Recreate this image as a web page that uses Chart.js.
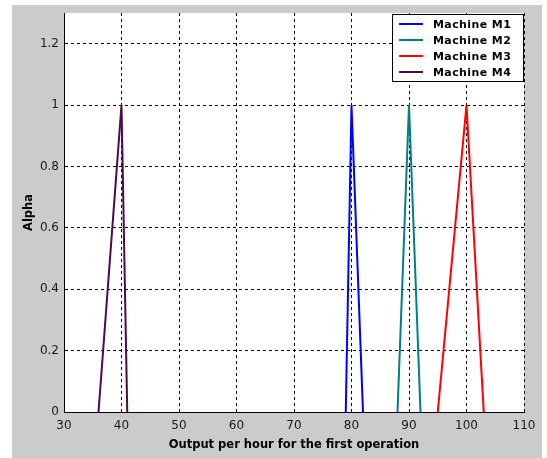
<!DOCTYPE html>
<html>
<head>
<meta charset="utf-8">
<script src="https://cdn.jsdelivr.net/npm/chart.js@4/dist/chart.umd.min.js"></script>
<style>
  html, body { margin: 0; padding: 0; background: #ffffff; }
  #wrap { width: 547px; height: 458px; position: relative; }
</style>
</head>
<body>
<div id="wrap"><canvas id="c" width="547" height="458"></canvas></div>
<script>
// ---- data ----
const seriesNames = ['Machine M1', 'Machine M2', 'Machine M3', 'Machine M4'];
const alphaLevels = [0, 1, 0];
const m1Output = [79, 80, 82];
const m2Output = [88, 90, 92];
const m3Output = [95, 100, 103];
const m4Output = [36, 40, 41];
const xTickValues = [30, 40, 50, 60, 70, 80, 90, 100, 110];
const yTickValues = [0, 0.2, 0.4, 0.6, 0.8, 1, 1.2];
const yTickLabels = ['0', '0.2', '0.4', '0.6', '0.8', '1', '1.2'];
const xTitle = 'Output per hour for the first operation';
const yTitle = 'Alpha';

const seriesColors = ['#0000ff', '#008080', '#ff0000', '#4b0a4b'];
const seriesOutputs = [m1Output, m2Output, m3Output, m4Output];

const datasets = seriesNames.map((name, i) => ({
  label: name,
  data: seriesOutputs[i].map((x, j) => ({ x: x, y: alphaLevels[j] })),
  borderColor: seriesColors[i],
  backgroundColor: seriesColors[i],
  borderWidth: 2,
  pointRadius: 0,
  tension: 0,
  fill: false
}));

const bgPlugin = {
  id: 'bg',
  beforeDraw(chart) {
    const ctx = chart.ctx;
    const a = chart.chartArea;
    ctx.save();
    ctx.fillStyle = '#ffffff';
    ctx.fillRect(0, 0, chart.width, chart.height);
    ctx.fillStyle = '#cbcbcb';
    ctx.fillRect(12, 5, 530, 453);
    ctx.fillStyle = '#ffffff';
    ctx.fillRect(a.left, a.top, a.right - a.left, a.bottom - a.top);
    ctx.restore();
  }
};

const legendPlugin = {
  id: 'boxLegend',
  afterDraw(chart) {
    const ctx = chart.ctx;
    const a = chart.chartArea;
    const bw = 132, bh = 68;
    const bx = a.right - bw, by = a.top + 1;
    ctx.save();
    ctx.fillStyle = '#ffffff';
    ctx.fillRect(bx, by, bw, bh);
    ctx.strokeStyle = '#000000';
    ctx.lineWidth = 1;
    ctx.strokeRect(bx + 0.5, by + 0.5, bw - 1, bh - 1);
    ctx.font = 'bold 11px "DejaVu Sans"';
    ctx.textBaseline = 'middle';
    ctx.textAlign = 'left';
    try { ctx.letterSpacing = '0.4px'; } catch (e) {}
    chart.data.datasets.forEach((ds, i) => {
      const y = by + 10 + i * 16;
      ctx.strokeStyle = ds.borderColor;
      ctx.lineWidth = 2;
      ctx.beginPath();
      ctx.moveTo(bx + 7, y);
      ctx.lineTo(bx + 31, y);
      ctx.stroke();
      ctx.fillStyle = '#000000';
      ctx.fillText(ds.label, bx + 41, y + 1);
    });
    ctx.restore();
  }
};

const tickFont = { family: '"DejaVu Sans"', size: 12 };
const titleFont = { family: '"DejaVu Sans"', size: 11.5, weight: 'bold' };

new Chart(document.getElementById('c'), {
  type: 'line',
  data: { datasets: datasets },
  plugins: [bgPlugin, legendPlugin],
  options: {
    responsive: false,
    animation: false,
    layout: { padding: { top: 13, right: 23, left: 0, bottom: 0 } },
    plugins: { legend: { display: false }, tooltip: { enabled: false } },
    scales: {
      x: {
        type: 'linear',
        min: 30,
        max: 110,
        afterBuildTicks(scale) { scale.ticks = xTickValues.map(v => ({ value: v })); },
        afterFit(scale) { scale.height = 46; },
        ticks: { font: tickFont, color: '#1a1a1a', padding: 7, maxRotation: 0, autoSkip: false,
                 callback: (v) => String(v) },
        grid: { color: '#000000', lineWidth: 1, drawTicks: false },
        border: { display: true, color: '#000000', width: 1, dash: [3, 3] },
        title: { display: true, text: xTitle, font: titleFont, color: '#000000', padding: { top: 0, bottom: 6 } }
      },
      y: {
        type: 'linear',
        min: 0,
        max: 1.3,
        afterBuildTicks(scale) { scale.ticks = yTickValues.map(v => ({ value: v })); },
        afterFit(scale) { scale.width = 64; },
        ticks: { font: tickFont, color: '#1a1a1a', padding: 5, autoSkip: false,
                 callback: (v) => { const k = yTickValues.indexOf(v); return k >= 0 ? yTickLabels[k] : ''; } },
        grid: { color: '#000000', lineWidth: 1, drawTicks: false },
        border: { display: true, color: '#000000', width: 1, dash: [3, 3] },
        title: { display: true, text: yTitle, font: titleFont, color: '#000000', padding: { top: 22, bottom: 0 } }
      }
    }
  }
});
</script>
</body>
</html>
